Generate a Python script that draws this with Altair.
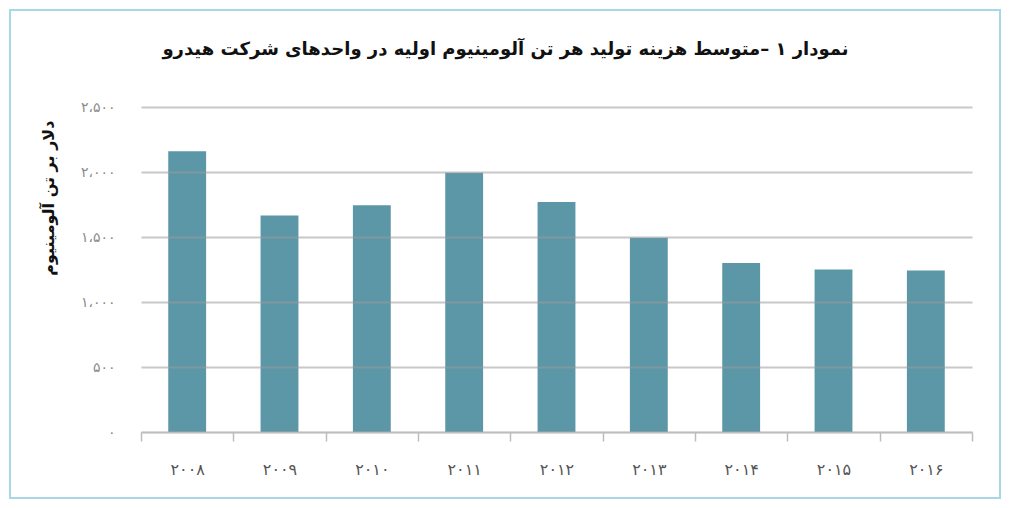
import altair as alt
import pandas as pd

# ---- data ----
year_labels = ["۲۰۰۸", "۲۰۰۹", "۲۰۱۰", "۲۰۱۱", "۲۰۱۲", "۲۰۱۳", "۲۰۱۴", "۲۰۱۵", "۲۰۱۶"]
costs = [2160, 1665, 1745, 1995, 1770, 1495, 1300, 1250, 1243]
y_ticks = [0, 500, 1000, 1500, 2000, 2500]
y_tick_labels = ["۰", "۵۰۰", "۱،۰۰۰", "۱،۵۰۰", "۲،۰۰۰", "۲،۵۰۰"]

title_text = "نمودار ۱ –متوسط هزینه تولید هر تن آلومینیوم اولیه در واحدهای شرکت هیدرو"
y_title = "دلار بر تن آلومینیوم"

FONT = "DejaVu Sans"
BAR = "#5c97a7"

df = pd.DataFrame({"year": year_labels, "cost": costs})

label_expr = " : ".join(
    f"datum.value == {v} ? '{s}'" for v, s in zip(y_ticks, y_tick_labels)
) + " : ''"

W, H = 831, 325

frame = alt.Chart(pd.DataFrame({"k": [0]})).mark_rect(
    fill="white", stroke="#a8d8e6", strokeWidth=2
).encode(
    x=alt.value(-131), x2=alt.value(W + 28),
    y=alt.value(-97), y2=alt.value(H + 66),
)

bars = alt.Chart(df).mark_bar(color=BAR, width={"band": 0.41}).encode(
    x=alt.X(
        "year:N",
        sort=year_labels,
        scale=alt.Scale(paddingInner=0, paddingOuter=0),
        axis=alt.Axis(
            title=None,
            labelAngle=0,
            labelFont=FONT,
            labelFontSize=16,
            labelColor="#555555",
            labelPadding=20,
            tickBand="extent",
            tickSize=9,
            tickColor="#bdbdbd",
            tickWidth=1.5,
            domainColor="#bdbdbd",
            domainWidth=1.5,
            grid=False,
            zindex=1,
        ),
    ),
    y=alt.Y(
        "cost:Q",
        scale=alt.Scale(domain=[0, 2500]),
        axis=alt.Axis(
            values=y_ticks,
            labelExpr=label_expr,
            labelFont=FONT,
            labelFontSize=14,
            labelColor="#8a8a8a",
            labelPadding=26,
            ticks=False,
            domain=False,
            grid=True,
            gridColor="#9a9a9a",
            gridOpacity=0.55,
            gridWidth=2,
            title=y_title,
            titleFont=FONT,
            titleFontSize=16,
            titleFontWeight="bold",
            titleColor="#111111",
            titleAngle=-90,
            titleAlign="right",
            titleBaseline="bottom",
            titleX=-85,
            titleY=13,
            zindex=1,
        ),
    ),
)

chart = alt.layer(frame, bars).properties(
    width=W,
    height=H,
    autosize=alt.AutoSizeParams(type="none"),
    padding={"left": 133, "top": 99, "right": 30, "bottom": 68},
    title=alt.TitleParams(
        text=title_text,
        font=FONT,
        fontSize=18,
        fontWeight="bold",
        color="#111111",
        anchor="middle",
        dx=-51,
        dy=54,
    ),
).configure_view(stroke=None).configure(background="white")

chart.save("out.html", embed_options={"renderer": "svg", "actions": False})
